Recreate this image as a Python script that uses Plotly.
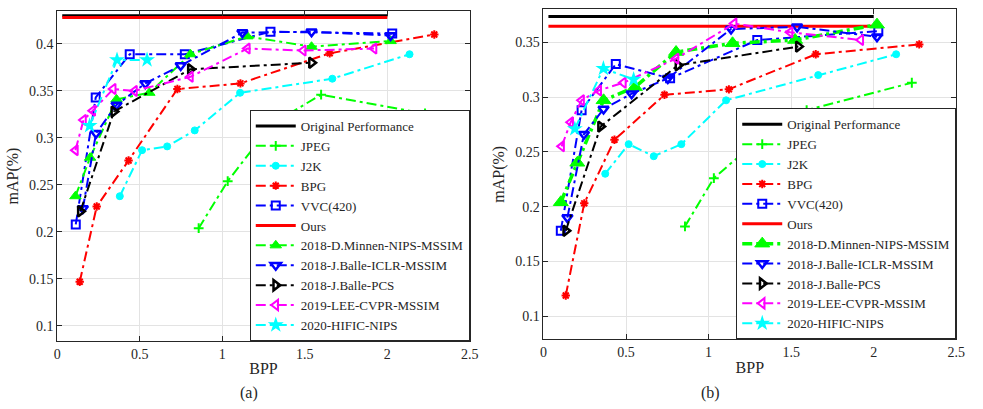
import plotly.graph_objects as go

# ---- data: (a) left, (b) right ----
BASE_X = [0.03, 2.0]
ORIG_A = 0.430
OURS_A = 0.428
ORIG_B = 0.3735
OURS_B = 0.3646

JPEG_A_X = [0.857, 1.033, 1.302, 1.599, 2.229]
JPEG_A_Y = [0.204, 0.254, 0.315, 0.346, 0.326]
J2K_A_X = [0.379, 0.514, 0.666, 0.833, 1.108, 1.667, 2.135]
J2K_A_Y = [0.238, 0.287, 0.291, 0.308, 0.348, 0.363, 0.389]
BPG_A_X = [0.136, 0.239, 0.432, 0.728, 1.110, 1.651, 2.285]
BPG_A_Y = [0.147, 0.227, 0.276, 0.352, 0.358, 0.390, 0.410]
VVC_A_X = [0.112, 0.233, 0.439, 0.773, 1.292, 2.03]
VVC_A_Y = [0.208, 0.343, 0.389, 0.389, 0.413, 0.411]
MINNEN_A_X = [0.110, 0.199, 0.359, 0.558, 0.807, 1.152, 1.541, 2.02]
MINNEN_A_Y = [0.238, 0.279, 0.341, 0.348, 0.389, 0.408, 0.397, 0.403]
ICLR_A_X = [0.155, 0.235, 0.359, 0.534, 0.748, 1.122, 1.541, 2.02]
ICLR_A_Y = [0.225, 0.305, 0.335, 0.358, 0.377, 0.412, 0.413, 0.409]
PCS_A_X = [0.140, 0.343, 0.807, 1.541]
PCS_A_Y = [0.222, 0.328, 0.373, 0.380]
LEE_A_X = [0.110, 0.159, 0.215, 0.339, 0.468, 0.807, 1.152, 1.491, 1.92]
LEE_A_Y = [0.287, 0.319, 0.329, 0.352, 0.350, 0.365, 0.395, 0.393, 0.395]
HIFIC_A_X = [0.196, 0.362, 0.544]
HIFIC_A_Y = [0.313, 0.383, 0.383]

JPEG_B_X = [0.857, 1.032, 1.309, 1.594, 2.231]
JPEG_B_Y = [0.182, 0.226, 0.262, 0.288, 0.313]
J2K_B_X = [0.374, 0.516, 0.668, 0.835, 1.106, 1.664, 2.136]
J2K_B_Y = [0.230, 0.257, 0.246, 0.257, 0.297, 0.320, 0.339]
BPG_B_X = [0.135, 0.247, 0.430, 0.733, 1.123, 1.649, 2.276]
BPG_B_Y = [0.119, 0.203, 0.261, 0.302, 0.307, 0.339, 0.348]
VVC_B_X = [0.105, 0.231, 0.438, 0.767, 1.295, 2.028]
VVC_B_Y = [0.178, 0.288, 0.330, 0.317, 0.352, 0.360]
MINNEN_B_X = [0.105, 0.205, 0.364, 0.554, 0.803, 1.145, 1.524, 2.02]
MINNEN_B_Y = [0.204, 0.240, 0.297, 0.309, 0.341, 0.349, 0.352, 0.366]
ICLR_B_X = [0.145, 0.245, 0.364, 0.534, 0.753, 1.136, 1.536, 2.02]
ICLR_B_Y = [0.190, 0.266, 0.289, 0.303, 0.317, 0.362, 0.364, 0.355]
PCS_B_X = [0.135, 0.346, 0.815, 1.544]
PCS_B_Y = [0.178, 0.273, 0.329, 0.346]
LEE_B_X = [0.110, 0.165, 0.231, 0.335, 0.484, 0.803, 1.155, 1.494, 1.922]
LEE_B_Y = [0.255, 0.277, 0.297, 0.306, 0.313, 0.335, 0.367, 0.359, 0.352]
HIFIC_B_X = [0.190, 0.363, 0.546]
HIFIC_B_Y = [0.271, 0.326, 0.316]

X_TICKS = [0, 0.5, 1, 1.5, 2, 2.5]
Y_TICKS_A = [0.1, 0.15, 0.2, 0.25, 0.3, 0.35, 0.4]
Y_TICKS_B = [0.1, 0.15, 0.2, 0.25, 0.3, 0.35]

FONT = "Liberation Serif"
INK = "#262626"
DASH = "10px,4px,3px,4px"

# name -> (color, symbol, size, marker line width)
STYLE = {
    "JPEG": ("#00ff00", "cross-thin-open", 7, 2),
    "J2K": ("#00ffff", "circle", 7, 1),
    "BPG": ("#ff0000", "asterisk-open", 7, 2),
    "VVC(420)": ("#0000ff", "square-open", 8, 2),
    "2018-D.Minnen-NIPS-MSSIM": ("#00ff00", "triangle-up", 10, 1),
    "2018-J.Balle-ICLR-MSSIM": ("#0000ff", "triangle-down-open", 9, 2.5),
    "2018-J.Balle-PCS": ("#000000", "triangle-right-open", 9, 2.5),
    "2019-LEE-CVPR-MSSIM": ("#ff00ff", "triangle-left-open", 9, 2),
    "2020-HIFIC-NIPS": ("#00ffff", "star", 12, 0),
}

PANELS = [
    ("x", "y", "legend", ORIG_A, OURS_A, [
        ("JPEG", JPEG_A_X, JPEG_A_Y), ("J2K", J2K_A_X, J2K_A_Y), ("BPG", BPG_A_X, BPG_A_Y),
        ("VVC(420)", VVC_A_X, VVC_A_Y),
        ("2018-D.Minnen-NIPS-MSSIM", MINNEN_A_X, MINNEN_A_Y),
        ("2018-J.Balle-ICLR-MSSIM", ICLR_A_X, ICLR_A_Y),
        ("2018-J.Balle-PCS", PCS_A_X, PCS_A_Y),
        ("2019-LEE-CVPR-MSSIM", LEE_A_X, LEE_A_Y),
        ("2020-HIFIC-NIPS", HIFIC_A_X, HIFIC_A_Y)]),
    ("x2", "y2", "legend2", ORIG_B, OURS_B, [
        ("JPEG", JPEG_B_X, JPEG_B_Y), ("J2K", J2K_B_X, J2K_B_Y), ("BPG", BPG_B_X, BPG_B_Y),
        ("VVC(420)", VVC_B_X, VVC_B_Y),
        ("2018-D.Minnen-NIPS-MSSIM", MINNEN_B_X, MINNEN_B_Y),
        ("2018-J.Balle-ICLR-MSSIM", ICLR_B_X, ICLR_B_Y),
        ("2018-J.Balle-PCS", PCS_B_X, PCS_B_Y),
        ("2019-LEE-CVPR-MSSIM", LEE_B_X, LEE_B_Y),
        ("2020-HIFIC-NIPS", HIFIC_B_X, HIFIC_B_Y)]),
]

fig = go.Figure()
for xa, ya, leg, orig, ours, series in PANELS:
    big = xa == "x2"
    fig.add_scatter(x=BASE_X, y=[orig, orig], xaxis=xa, yaxis=ya, legend=leg, mode="lines",
                    name="Original Performance", line=dict(color="#000000", width=3))
    for name, xs, ys in series:
        color, sym, size, mlw = STYLE[name]
        lw = 2
        if big and name.startswith("2018-D"):
            lw, size = 3.5, 13
        fig.add_scatter(x=xs, y=ys, xaxis=xa, yaxis=ya, legend=leg, mode="lines+markers",
                        name=name, line=dict(color=color, width=lw, dash=DASH),
                        marker=dict(symbol=sym, size=size, color=color,
                                    line=dict(color=color, width=mlw)))
        if name == "VVC(420)":
            fig.add_scatter(x=BASE_X, y=[ours, ours], xaxis=xa, yaxis=ya, legend=leg,
                            mode="lines", name="Ours", line=dict(color="#ff0000", width=3))

axis_common = dict(showline=True, linecolor=INK, linewidth=1, mirror="ticks", ticks="inside",
                   ticklen=5, tickcolor=INK, showgrid=True, gridcolor="#e3e3e3", gridwidth=1,
                   zeroline=False, tickfont=dict(family=FONT, size=14, color=INK))
title_font = dict(family=FONT, size=16, color=INK)

legend_common = dict(font=dict(family=FONT, size=13, color=INK), bgcolor="#ffffff",
                     bordercolor=INK, borderwidth=1, xanchor="right", yanchor="bottom",
                     itemwidth=40, tracegroupgap=0, itemclick=False)

fig.update_layout(
    width=983, height=409, plot_bgcolor="#ffffff", paper_bgcolor="#ffffff",
    margin=dict(l=0, r=0, t=0, b=0),
    xaxis=dict(axis_common, domain=[54 / 983, 472 / 983], range=[0, 2.5], tickvals=X_TICKS,
               ticktext=[str(v) for v in X_TICKS], anchor="y",
               title=dict(text="BPP", font=title_font, standoff=2)),
    yaxis=dict(axis_common, domain=[1 - 341 / 409, 1 - 11 / 409], range=[0.084, 0.435],
               tickvals=Y_TICKS_A, ticktext=[f"{v:g}" for v in Y_TICKS_A], anchor="x",
               title=dict(text="mAP(%)", font=title_font, standoff=6)),
    xaxis2=dict(axis_common, domain=[546.7 / 983, 965 / 983], range=[0, 2.5], tickvals=X_TICKS,
                ticktext=[str(v) for v in X_TICKS], anchor="y2",
                title=dict(text="BPP", font=title_font, standoff=2)),
    yaxis2=dict(axis_common, domain=[1 - 339.3 / 409, 1 - 9.3 / 409], range=[0.079, 0.380],
                tickvals=Y_TICKS_B, ticktext=[f"{v:g}" for v in Y_TICKS_B], anchor="x2",
                title=dict(text="mAP(%)", font=title_font, standoff=6)),
    legend=dict(legend_common, x=472 / 983, y=1 - 341 / 409),
    legend2=dict(legend_common, x=965 / 983, y=1 - 339.3 / 409),
    annotations=[
        dict(text="(a)", x=237 / 983, y=1 - 393 / 409, xref="paper", yref="paper",
             yanchor="middle", showarrow=False, font=dict(family=FONT, size=16, color=INK)),
        dict(text="(b)", x=728 / 983, y=1 - 393 / 409, xref="paper", yref="paper",
             yanchor="middle", showarrow=False, font=dict(family=FONT, size=16, color=INK)),
    ],
)

# the page's default body margin would push the figure off by 8px
fig.write_html("out.html", config={"displayModeBar": False},
               post_script="document.body.style.margin='0';")
